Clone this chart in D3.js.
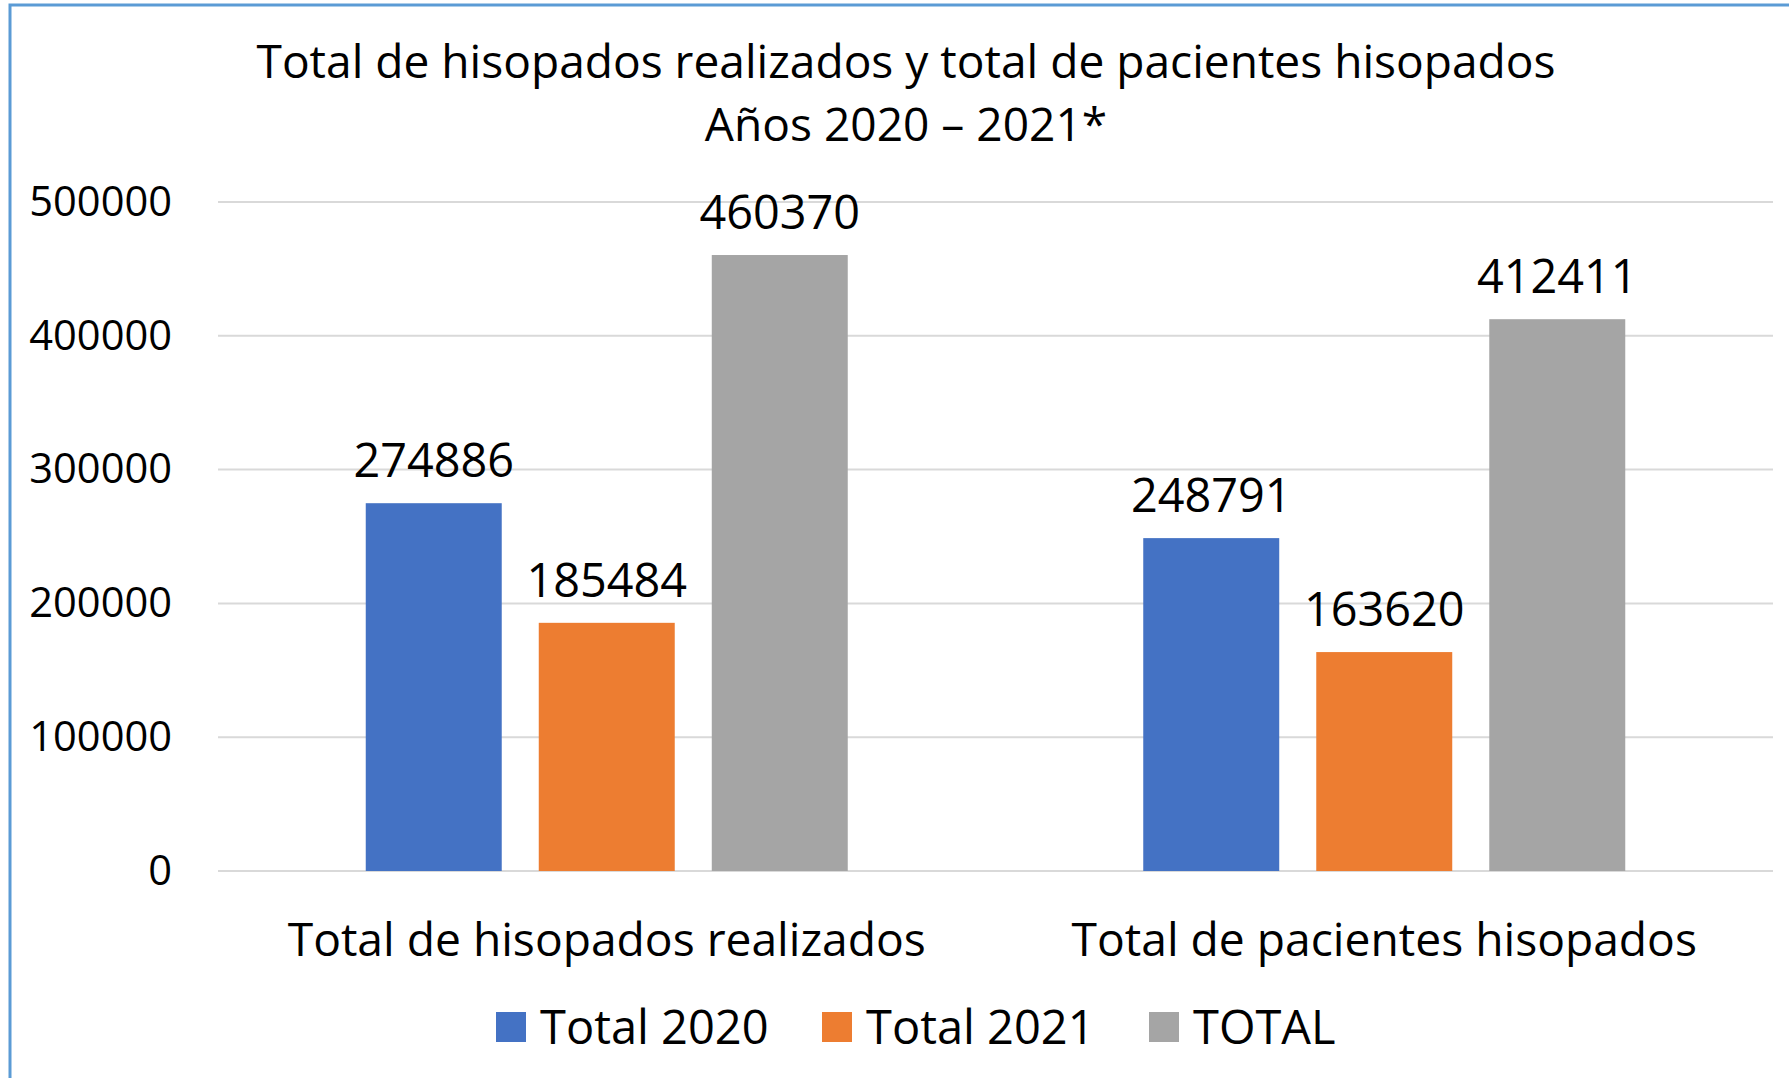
<!DOCTYPE html>
<html>
<head>
<meta charset="utf-8">
<script src="https://cdn.jsdelivr.net/npm/d3@7.9.0/dist/d3.min.js"></script>
<style>
  html, body { margin: 0; padding: 0; background: #fff; }
  svg { display: block; font-family: "Open Sans", sans-serif; }
</style>
</head>
<body>
<svg id="chart" width="1789" height="1078"></svg>
<script>
// data
const categories = ['Total de hisopados realizados', 'Total de pacientes hisopados'];
const seriesNames = ['Total 2020', 'Total 2021', 'TOTAL'];
const total2020 = [274886, 248791];
const total2021 = [185484, 163620];
const totalAll = [460370, 412411];
const yTicks = [0, 100000, 200000, 300000, 400000, 500000];
const colors = ['#4472C4', '#ED7D31', '#A5A5A5'];

const seriesValues = [total2020, total2021, totalAll];

const svg = d3.select('#chart');

// frame (only top and left edges show in the original crop)
svg.append('path')
  .attr('d', 'M10,1078 V5 H1789')
  .attr('fill', 'none')
  .attr('stroke', '#5B9BD5')
  .attr('stroke-width', 3);

// title
const title = svg.append('text')
  .attr('text-anchor', 'middle')
  .attr('font-size', 46.1)
  .attr('fill', '#000');
title.append('tspan').attr('x', 906).attr('y', 78)
  .text('Total de hisopados realizados y total de pacientes hisopados');
title.append('tspan').attr('x', 906).attr('y', 141)
  .text('Años 2020 – 2021*');

// scales
const plotLeft = 218, plotRight = 1773, plotTop = 202, plotBottom = 871;

const y = d3.scaleLinear().domain([0, 500000]).range([plotBottom, plotTop]);

const x0 = d3.scaleBand().domain(categories).range([plotLeft, plotRight]).padding(0);

const x1 = d3.scaleBand().domain(seriesNames)
  .range([0, x0.bandwidth()])
  .paddingInner(0.214)
  .paddingOuter(0.854);

// gridlines
svg.append('g')
  .selectAll('line')
  .data(yTicks)
  .join('line')
  .attr('x1', plotLeft)
  .attr('x2', plotRight)
  .attr('y1', (d) => y(d))
  .attr('y2', (d) => y(d))
  .attr('stroke', '#D9D9D9')
  .attr('stroke-width', 2);

// y axis labels
const yAxis = svg.append('g')
  .attr('transform', `translate(172,0)`)
  .call(d3.axisLeft(y).tickValues(yTicks).tickSize(0).tickPadding(0).tickFormat(d3.format('d')));
yAxis.select('.domain').remove();
yAxis.selectAll('text')
  .attr('font-family', '"Open Sans", sans-serif')
  .attr('font-size', 41.6)
  .attr('fill', '#000');

// bars
const groups = svg.append('g')
  .selectAll('g')
  .data(categories)
  .join('g')
  .attr('transform', (d) => `translate(${x0(d)},0)`);

groups.each(function (cat, ci) {
  const g = d3.select(this);
  const rows = seriesNames.map((s, si) => ({ s, si, v: seriesValues[si][ci] }));

  g.selectAll('rect')
    .data(rows)
    .join('rect')
    .attr('x', (d) => x1(d.s))
    .attr('width', x1.bandwidth())
    .attr('y', (d) => y(d.v))
    .attr('height', (d) => y(0) - y(d.v))
    .attr('fill', (d) => colors[d.si]);

  g.selectAll('text.value')
    .data(rows)
    .join('text')
    .attr('class', 'value')
    .attr('x', (d) => x1(d.s) + x1.bandwidth() / 2)
    .attr('y', (d) => y(d.v) - 26)
    .attr('text-anchor', 'middle')
    .attr('font-size', 46.8)
    .attr('fill', '#000')
    .text((d) => d.v);
});

// category labels
svg.append('g')
  .selectAll('text')
  .data(categories)
  .join('text')
  .attr('x', (d) => x0(d) + x0.bandwidth() / 2)
  .attr('y', 956)
  .attr('text-anchor', 'middle')
  .attr('font-size', 46.2)
  .attr('fill', '#000')
  .text((d) => d);

// legend
const legendX = [496, 822, 1149];
const legend = svg.append('g')
  .selectAll('g')
  .data(seriesNames)
  .join('g')
  .attr('transform', (d, i) => `translate(${legendX[i]},1012)`);

legend.append('rect')
  .attr('width', 30)
  .attr('height', 30)
  .attr('fill', (d, i) => colors[i]);

legend.append('text')
  .attr('x', 44)
  .attr('y', 32)
  .attr('font-size', 47)
  .attr('fill', '#000')
  .text((d) => d);
</script>
</body>
</html>
